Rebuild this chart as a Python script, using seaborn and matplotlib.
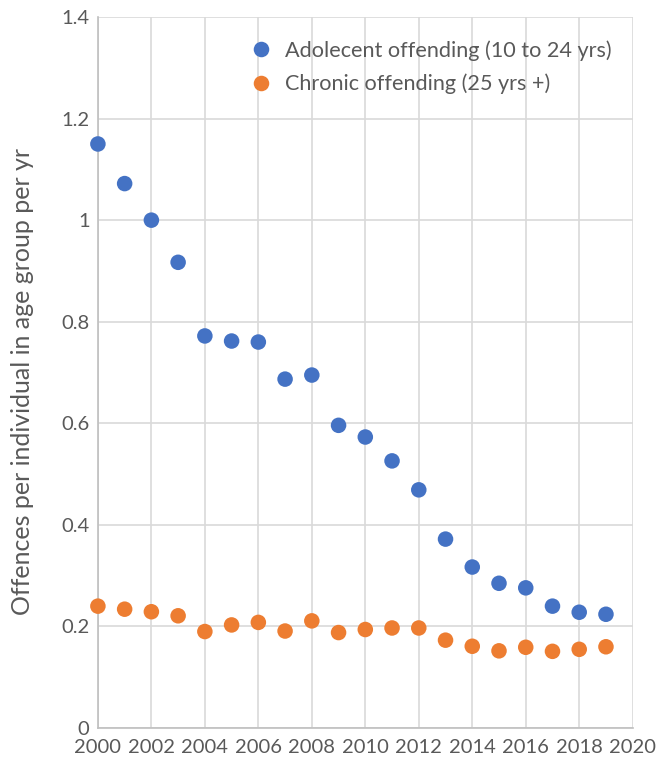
import matplotlib
matplotlib.use("Agg")
import matplotlib.pyplot as plt
import seaborn as sns
import pandas as pd
from matplotlib.ticker import FuncFormatter, MultipleLocator

years = list(range(2000, 2020))
adolescent = [1.150, 1.072, 1.000, 0.917, 0.772, 0.762, 0.760, 0.687, 0.695, 0.596,
              0.573, 0.526, 0.469, 0.372, 0.317, 0.285, 0.276, 0.240, 0.228, 0.224]
chronic = [0.240, 0.234, 0.229, 0.221, 0.190, 0.203, 0.208, 0.191, 0.211, 0.188,
           0.194, 0.197, 0.197, 0.173, 0.161, 0.152, 0.159, 0.151, 0.155, 0.160]
series_names = ["Adolecent offending (10 to 24 yrs)", "Chronic offending (25 yrs +)"]
colors = ["#4472C4", "#ED7D31"]

df = pd.concat([
    pd.DataFrame({"Year": years, "Value": adolescent, "Series": series_names[0]}),
    pd.DataFrame({"Year": years, "Value": chronic, "Series": series_names[1]}),
])

sns.set_theme(style="white")
plt.rcParams['font.family'] = ['Lato', 'DejaVu Sans']

fig = plt.figure(figsize=(6.66, 7.59), dpi=100)
ax = fig.add_axes([0.147, 0.0408, 0.803, 0.9368])

sns.scatterplot(data=df, x="Year", y="Value", hue="Series", palette=colors,
                s=125, edgecolor="none", ax=ax, clip_on=False, zorder=3)

ax.set_xlim(2000, 2020)
ax.set_ylim(0, 1.4)
ax.xaxis.set_major_locator(MultipleLocator(2))
ax.yaxis.set_major_locator(MultipleLocator(0.2))
ax.yaxis.set_major_formatter(FuncFormatter(lambda v, p: f"{round(v, 2):g}"))
ax.grid(True, color="#D9D9D9", linewidth=1.2)
ax.set_axisbelow(True)
for s in ["top", "right"]:
    ax.spines[s].set_visible(False)
for s in ["left", "bottom"]:
    ax.spines[s].set_color("#BFBFBF")
    ax.spines[s].set_linewidth(1.2)
ax.tick_params(axis="both", length=0, labelsize=14.5, labelcolor="#595959")
ax.tick_params(axis="y", pad=6)
ax.tick_params(axis="x", pad=8)
ax.set_xlabel("")
ax.set_ylabel("Offences per individual in age group per yr", fontsize=18, color="#595959")
ax.yaxis.set_label_coords(-0.12, 0.487)

leg = ax.legend(loc="upper left", bbox_to_anchor=(0.228, 0.995), frameon=False,
                fontsize=15.6, handletextpad=0.1, labelspacing=0.6, markerscale=1.0)
for t in leg.get_texts():
    t.set_color("#595959")

fig.savefig("out.png", dpi=100)
